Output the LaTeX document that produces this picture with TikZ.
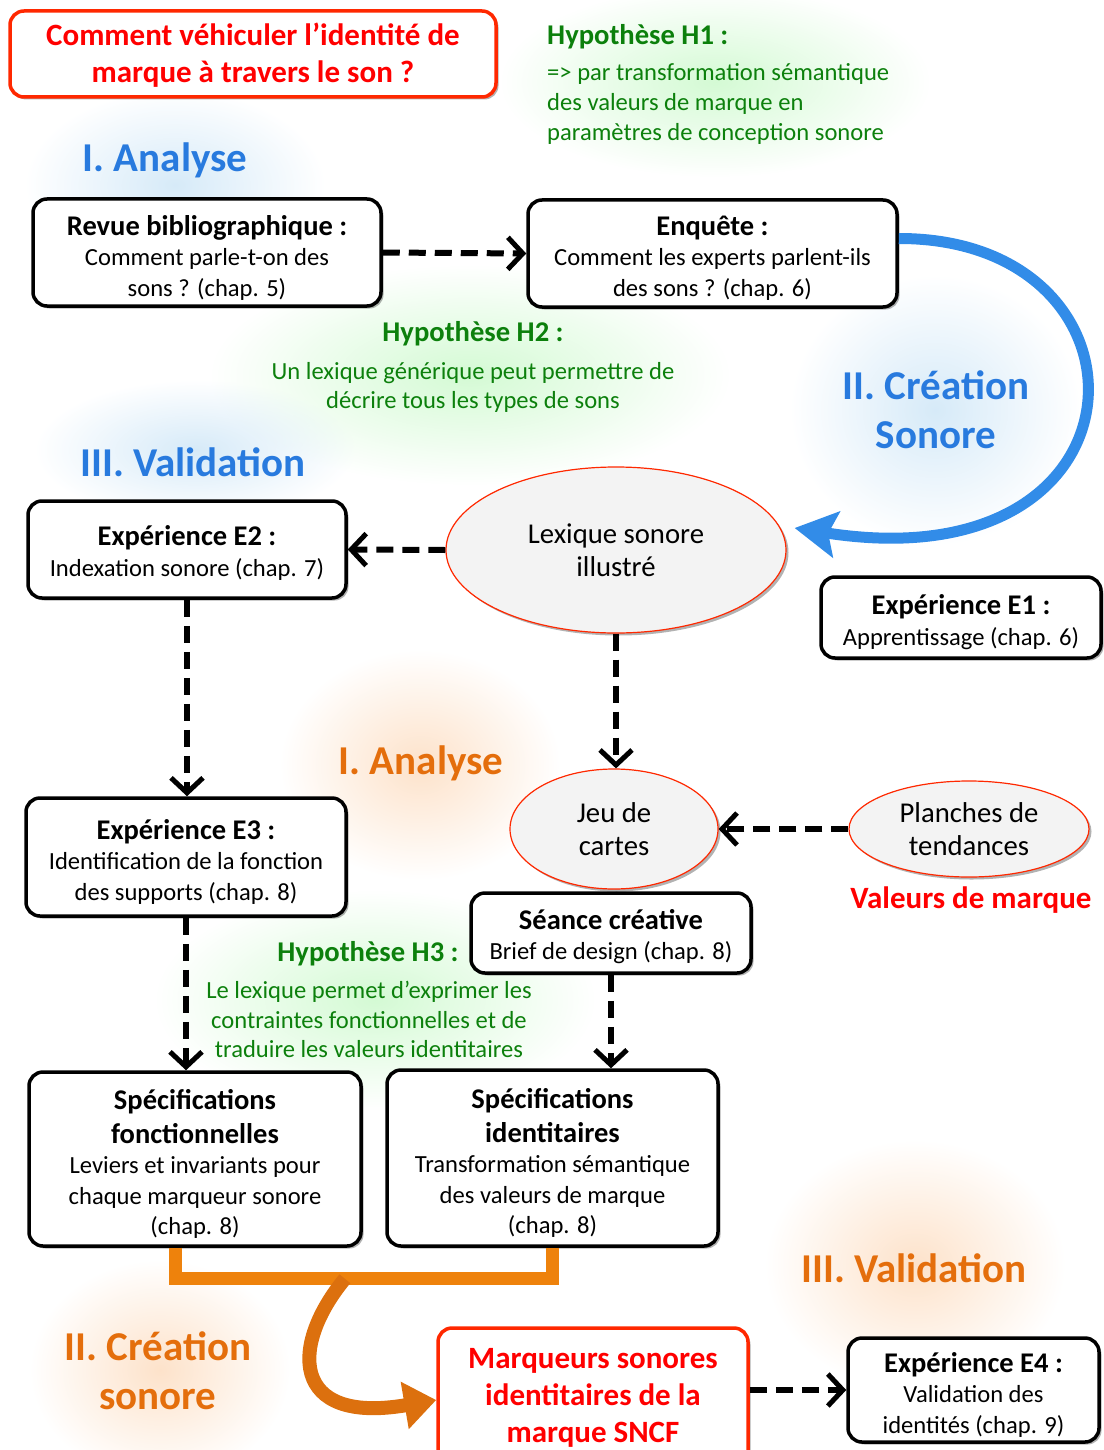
\documentclass[tikz,border=0pt]{standalone}
\usepackage{fontspec}
\setmainfont{Carlito}
\usetikzlibrary{arrows.meta,shadows,fadings,shapes.geometric,backgrounds,calc}
\definecolor{bluetxt}{RGB}{40,122,222}
\definecolor{bluearc}{RGB}{50,140,232}
\definecolor{greentxt}{RGB}{12,128,12}
\definecolor{orangetxt}{RGB}{228,110,12}
\definecolor{orangebr}{RGB}{238,130,12}
\definecolor{orangearr}{RGB}{220,112,14}
\definecolor{redtxt}{RGB}{255,0,0}
\definecolor{redline}{RGB}{255,40,0}
\definecolor{ellfill}{RGB}{243,243,243}
\definecolor{glowgreen}{RGB}{212,250,212}
\definecolor{glowblue}{RGB}{214,234,248}
\definecolor{gloworange}{RGB}{253,226,202}
\tikzfading[name=glowfade, inner color=transparent!0, outer color=transparent!100]
\newcommand\hdr[1]{{\bfseries\fontsize{28.5}{30.5}\selectfont #1}}
\begin{document}
\begin{tikzpicture}[x=1pt,y=-1pt,
  myshadow/.style={drop shadow={shadow xshift=2.5pt,shadow yshift=-2.5pt,opacity=0.3,fill=black}},
  boxnode/.style={draw=black, line width=3.5pt, rounded corners=14pt, fill=white, align=center,
    inner sep=0pt, font=\fontsize{24.6}{30.5}\selectfont, myshadow},
  boxtext/.style={align=center, inner sep=0pt, font=\fontsize{24.6}{30.5}\selectfont},
  ellnode/.style={ellipse, draw=redline, line width=1.2pt, fill=ellfill, inner sep=0pt, align=center,
    font=\fontsize{28.7}{33}\selectfont, myshadow},
  dasharrow/.style={draw=black, line width=6pt, dash pattern=on 17pt off 9pt,
    -{Straight Barb[length=15pt,width=32pt,line width=5pt]}},
  sectblue/.style={text=bluetxt, font=\bfseries\fontsize{41}{49}\selectfont, align=center, inner sep=0pt},
  sectorange/.style={text=orangetxt, font=\bfseries\fontsize{41}{49}\selectfont, align=center, inner sep=0pt},
  hyphead/.style={text=greentxt, font=\bfseries\fontsize{28.6}{30}\selectfont, inner sep=0pt},
  hypbody/.style={text=greentxt, font=\fontsize{24.6}{29.5}\selectfont, inner sep=0pt},
  glow/.style={path fading=glowfade}
]
\useasboundingbox (0,0) rectangle (1103,1450);

% ---------- title and hypotheses
\node[boxnode, draw=redline, text=redtxt, minimum width=486pt, minimum height=86pt, text depth=2pt,
  font=\bfseries\fontsize{31}{37}\selectfont] (title) at (253,54)
  {Comment véhiculer l’identité de\\marque à travers le son ?};

\node[hyphead, anchor=west] (h1head) at (547,37) {Hypothèse H1 :};
\node[hypbody, anchor=west, align=left, font=\fontsize{24.6}{30}\selectfont] (h1body) at (547,104)
  {=> par transformation sémantique\\des valeurs de marque en\\paramètres de conception sonore};

\node[hyphead] (h2head) at (473,334) {Hypothèse H2 :};
\node[hypbody, align=center] (h2body) at (473,387.5)
  {Un lexique générique peut permettre de\\décrire tous les types de sons};

\node[hyphead] (h3head) at (368,954) {Hypothèse H3 :};
\node[hypbody, align=center] (h3body) at (369,1019.5)
  {Le lexique permet d’exprimer les\\contraintes fonctionnelles et de\\traduire les valeurs identitaires};

% ---------- section titles
\node[sectblue] (sa1) at (165,160) {I. Analyse};
\node[sectblue] (sc1) at (936,409.5) {II. Création\\Sonore};
\node[sectblue] (sv1) at (193,462) {III. Validation};
\node[sectorange] (sa2) at (421,763) {I. Analyse};
\node[sectorange] (sv2) at (914,1268) {III. Validation};
\node[sectorange] (sc2) at (158,1371) {II. Création\\sonore};
\node[text=redtxt, font=\bfseries\fontsize{31}{32}\selectfont, inner sep=0pt] (valeurs) at (971,900) {Valeurs de marque};

% ---------- boxes (frame + text)
\node[boxnode, minimum width=348pt, minimum height=107pt] (revue) at (207,252.5) {};
\node[boxtext] (revuetext) at ([yshift=-5pt]revue.center)
  {\hdr{Revue bibliographique :}\\Comment parle-t-on des\\sons ? (chap. 5)};
\node[boxnode, minimum width=369pt, minimum height=107pt] (enq) at (712.5,253.5) {};
\node[boxtext] (enqtext) at ([yshift=-4.5pt]enq.center)
  {\hdr{Enquête :}\\Comment les experts parlent-ils\\des sons ? (chap. 6)};
\node[boxnode, minimum width=318pt, minimum height=97pt] (e2) at (187,549.5) {};
\node[boxtext] (e2text) at ([yshift=-3.5pt]e2.center)
  {\hdr{Expérience E2 :}\\Indexation sonore (chap. 7)};
\node[boxnode, minimum width=280pt, minimum height=81pt] (e1) at (961,617.5) {};
\node[boxtext] (e1text) at ([yshift=-4.5pt]e1.center)
  {\hdr{Expérience E1 :}\\Apprentissage (chap. 6)};
\node[boxnode, minimum width=320pt, minimum height=118pt] (e3) at (186,857) {};
\node[boxtext] (e3text) at ([yshift=-4.5pt]e3.center)
  {\hdr{Expérience E3 :}\\Identification de la fonction\\des supports (chap. 8)};
\node[boxnode, minimum width=280pt, minimum height=80pt] (seance) at (611,933) {};
\node[boxtext] (seancetext) at ([yshift=-3.5pt]seance.center)
  {\hdr{Séance créative}\\Brief de design (chap. 8)};
\node[boxnode, minimum width=332pt, minimum height=174pt] (specf) at (195,1159) {};
\node[boxtext] (specftext) at ([yshift=-5pt]specf.center)
  {\hdr{Spécifications}\\[3pt]\hdr{fonctionnelles}\\Leviers et invariants pour\\chaque marqueur sonore\\(chap. 8)};
\node[boxnode, minimum width=331pt, minimum height=176pt] (speci) at (552.5,1158) {};
\node[boxtext] (specitext) at ([yshift=-5pt]speci.center)
  {\hdr{Spécifications}\\[3pt]\hdr{identitaires}\\Transformation sémantique\\des valeurs de marque\\(chap. 8)};
\node[boxnode, draw=redline, text=redtxt, minimum width=310pt, minimum height=140pt,
  font=\bfseries\fontsize{31}{37}\selectfont] (marq) at (593,1398)
  {Marqueurs sonores\\identitaires de la\\marque SNCF};
\node[boxnode, minimum width=251pt, minimum height=104pt] (e4) at (973.5,1390) {};
\node[boxtext] (e4text) at ([yshift=-4.5pt]e4.center)
  {\hdr{Expérience E4 :}\\Validation des\\identités (chap. 9)};

% ---------- ellipses
\node[ellnode, minimum width=340pt, minimum height=166pt] (lex) at (616,550) {Lexique sonore\\illustré};
\node[ellnode, minimum width=208pt, minimum height=120pt] (jeu) at (614,829) {Jeu de\\cartes};
\node[ellnode, minimum width=240pt, minimum height=96pt] (plan) at (969,829) {Planches de\\tendances};

% ---------- glows
\begin{scope}[on background layer]
  \fill[glowgreen, glow] (715,82) ellipse (215pt and 95pt);
  \fill[glowblue, glow] (175,185) ellipse (150pt and 95pt);
  \fill[glowgreen, glow] (470,375) ellipse (260pt and 110pt);
  \fill[glowblue, glow] (935,410) ellipse (145pt and 135pt);
  \fill[glowblue, glow] (195,450) ellipse (160pt and 70pt);
  \fill[gloworange, glow] (420,765) ellipse (140pt and 115pt);
  \fill[glowgreen, glow] (375,1000) ellipse (220pt and 110pt);
  \fill[gloworange, glow] (915,1265) ellipse (150pt and 125pt);
  \fill[gloworange, glow] (160,1370) ellipse (130pt and 110pt);
\end{scope}

% ---------- connectors
\draw[dasharrow] (revue.east) -- (enq.west);
\draw[dasharrow] (lex.west) -- (e2.east);
\draw[dasharrow] (e2.south) -- (e2.south |- e3.north);
\draw[dasharrow] (lex.south) -- (lex.south |- jeu.north);
\draw[dasharrow] (plan.west) -- (jeu.east);
\draw[dasharrow] (e3.south) -- (e3.south |- specf.north);
\draw[dasharrow] (seance.south) -- (seance.south |- speci.north);
\draw[dasharrow] (marq.east |- e4.west) -- (e4.west);

% blue cycle arrow
\draw[bluearc, line width=11pt, -{Stealth[length=42pt,width=46pt,inset=8pt]}]
  ([yshift=15pt]enq.east) .. controls (1165,238) and (1160,585) .. ([xshift=8pt,yshift=22pt]lex.east);

% orange bracket and arrow
\draw[orangebr, line width=13pt, line join=miter] ([xshift=-20pt]specf.south) -- ++(0,31) -| (speci.south);
\coordinate (brmid) at ($([xshift=-20pt]specf.south)!0.45!(speci.south) + (0,31)$);
\draw[orangearr, line width=14pt, -{Triangle[length=32pt,width=46pt]}]
  (brmid) .. controls (290,1345) and (290,1425) .. ([yshift=-2pt]marq.west);
\end{tikzpicture}
\end{document}
